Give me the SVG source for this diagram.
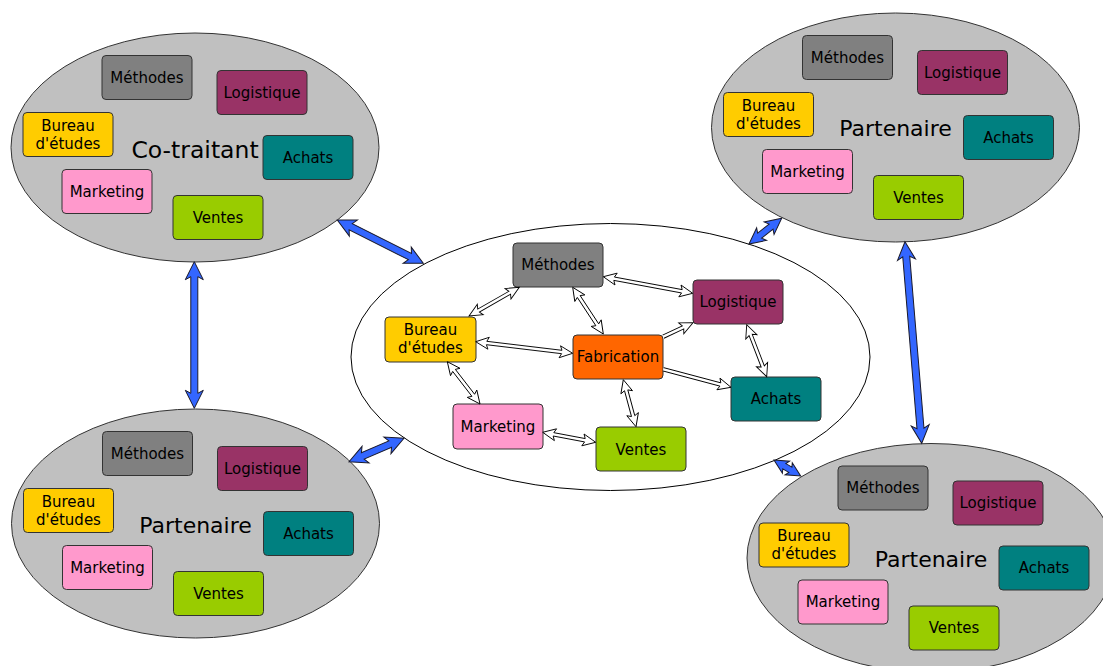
<svg xmlns="http://www.w3.org/2000/svg" width="1103" height="666" viewBox="0 0 1103 666">
<style>
text{font-family:"DejaVu Sans","Liberation Sans",sans-serif;font-size:15px;fill:#000;text-anchor:middle}
.lbl{font-size:22px}
.lbl2{font-size:23.5px}
.sat{fill:#c0c0c0;stroke:#333;stroke-width:1}
.core{fill:#fff;stroke:#000;stroke-width:1}
.box{stroke:#333;stroke-width:1}
.meth{fill:#808080}.logi{fill:#993366}.bur{fill:#ffcc00}.ach{fill:#008080}.mkt{fill:#ff99cc}.ven{fill:#99cc00}.fab{fill:#ff6600}
.wa{fill:#fff;stroke:#000;stroke-width:0.9;stroke-linejoin:miter}
.ba{fill:#3366ff;stroke:#1a1a2a;stroke-width:1}
</style>

<g id="cotraitant" transform="translate(195,147.5)">
<ellipse class="sat" cx="0" cy="0" rx="184" ry="114.5"/>
<text class="lbl2" x="0" y="10">Co-traitant</text>
<g id="ct-methodes"><rect class="box meth" x="-93" y="-92" width="90" height="44" rx="4"/><text x="-48" y="-65">Méthodes</text></g>
<g id="ct-logistique"><rect class="box logi" x="22" y="-77" width="90" height="44" rx="4"/><text x="67" y="-50">Logistique</text></g>
<g id="ct-bureau"><rect class="box bur" x="-172" y="-35" width="90" height="44" rx="4"/><text x="-127" y="-17">Bureau</text><text x="-127" y="1">d'études</text></g>
<g id="ct-achats"><rect class="box ach" x="68" y="-12" width="90" height="44" rx="4"/><text x="113" y="15">Achats</text></g>
<g id="ct-marketing"><rect class="box mkt" x="-133" y="22" width="90" height="44" rx="4"/><text x="-88" y="49">Marketing</text></g>
<g id="ct-ventes"><rect class="box ven" x="-22" y="48" width="90" height="44" rx="4"/><text x="23" y="75">Ventes</text></g>
</g>

<g id="partenaire-tr" transform="translate(895.5,127.5)">
<ellipse class="sat" cx="0" cy="0" rx="184" ry="114.5"/>
<text class="lbl" x="0" y="8">Partenaire</text>
<g id="tr-methodes"><rect class="box meth" x="-93" y="-92" width="90" height="44" rx="4"/><text x="-48" y="-65">Méthodes</text></g>
<g id="tr-logistique"><rect class="box logi" x="22" y="-77" width="90" height="44" rx="4"/><text x="67" y="-50">Logistique</text></g>
<g id="tr-bureau"><rect class="box bur" x="-172" y="-35" width="90" height="44" rx="4"/><text x="-127" y="-17">Bureau</text><text x="-127" y="1">d'études</text></g>
<g id="tr-achats"><rect class="box ach" x="68" y="-12" width="90" height="44" rx="4"/><text x="113" y="15">Achats</text></g>
<g id="tr-marketing"><rect class="box mkt" x="-133" y="22" width="90" height="44" rx="4"/><text x="-88" y="49">Marketing</text></g>
<g id="tr-ventes"><rect class="box ven" x="-22" y="48" width="90" height="44" rx="4"/><text x="23" y="75">Ventes</text></g>
</g>

<g id="partenaire-bl" transform="translate(195.5,523.5)">
<ellipse class="sat" cx="0" cy="0" rx="184" ry="114.5"/>
<text class="lbl" x="0" y="9">Partenaire</text>
<g id="bl-methodes"><rect class="box meth" x="-93" y="-92" width="90" height="44" rx="4"/><text x="-48" y="-65">Méthodes</text></g>
<g id="bl-logistique"><rect class="box logi" x="22" y="-77" width="90" height="44" rx="4"/><text x="67" y="-50">Logistique</text></g>
<g id="bl-bureau"><rect class="box bur" x="-172" y="-35" width="90" height="44" rx="4"/><text x="-127" y="-17">Bureau</text><text x="-127" y="1">d'études</text></g>
<g id="bl-achats"><rect class="box ach" x="68" y="-12" width="90" height="44" rx="4"/><text x="113" y="15">Achats</text></g>
<g id="bl-marketing"><rect class="box mkt" x="-133" y="22" width="90" height="44" rx="4"/><text x="-88" y="49">Marketing</text></g>
<g id="bl-ventes"><rect class="box ven" x="-22" y="48" width="90" height="44" rx="4"/><text x="23" y="75">Ventes</text></g>
</g>

<g id="partenaire-br" transform="translate(931,558)">
<ellipse class="sat" cx="0" cy="0" rx="184" ry="114.5"/>
<text class="lbl" x="0" y="9">Partenaire</text>
<g id="br-methodes"><rect class="box meth" x="-93" y="-92" width="90" height="44" rx="4"/><text x="-48" y="-65">Méthodes</text></g>
<g id="br-logistique"><rect class="box logi" x="22" y="-77" width="90" height="44" rx="4"/><text x="67" y="-50">Logistique</text></g>
<g id="br-bureau"><rect class="box bur" x="-172" y="-35" width="90" height="44" rx="4"/><text x="-127" y="-17">Bureau</text><text x="-127" y="1">d'études</text></g>
<g id="br-achats"><rect class="box ach" x="68" y="-12" width="90" height="44" rx="4"/><text x="113" y="15">Achats</text></g>
<g id="br-marketing"><rect class="box mkt" x="-133" y="22" width="90" height="44" rx="4"/><text x="-88" y="49">Marketing</text></g>
<g id="br-ventes"><rect class="box ven" x="-22" y="48" width="90" height="44" rx="4"/><text x="23" y="75">Ventes</text></g>
</g>

<g id="entreprise">
<ellipse class="core" cx="610.5" cy="357" rx="259.5" ry="133.5"/>
<g id="c-methodes"><rect class="box meth" x="513" y="243" width="90" height="44" rx="4"/><text x="558" y="270">Méthodes</text></g>
<g id="c-logistique"><rect class="box logi" x="693" y="280" width="90" height="44" rx="4"/><text x="738" y="307">Logistique</text></g>
<g id="c-bureau"><rect class="box bur" x="385" y="317" width="91" height="45" rx="4"/><text x="430.5" y="335">Bureau</text><text x="430.5" y="353">d'études</text></g>
<g id="c-fabrication"><rect class="box fab" x="573" y="335" width="90" height="44" rx="4"/><text x="618" y="362">Fabrication</text></g>
<g id="c-achats"><rect class="box ach" x="731" y="377" width="90" height="44" rx="4"/><text x="776" y="404">Achats</text></g>
<g id="c-marketing"><rect class="box mkt" x="453" y="404" width="90" height="45" rx="4"/><text x="498" y="432">Marketing</text></g>
<g id="c-ventes"><rect class="box ven" x="596" y="427" width="90" height="44" rx="4"/><text x="641" y="455">Ventes</text></g>
</g>

<g id="connectors">
<path class="wa" transform="translate(603.3,276.7) rotate(10.52)" d="M0,0 L13,-6 L11,-1.7 L79.93,-1.7 L77.93,-6 L90.93,0 L77.93,6 L79.93,1.7 L11,1.7 L13,6 Z"/>
<path class="wa" transform="translate(469,316) rotate(-29.71)" d="M0,0 L13,-6 L11,-1.7 L46.91,-1.7 L44.91,-6 L57.91,0 L44.91,6 L46.91,1.7 L11,1.7 L13,6 Z"/>
<path class="wa" transform="translate(572.7,287.3) rotate(56.76)" d="M0,0 L13,-6 L11,-1.7 L44.83,-1.7 L42.83,-6 L55.83,0 L42.83,6 L44.83,1.7 L11,1.7 L13,6 Z"/>
<path class="wa" transform="translate(475.7,341.7) rotate(6.82)" d="M0,0 L13,-6 L11,-1.7 L86.69,-1.7 L84.69,-6 L97.69,0 L84.69,6 L86.69,1.7 L11,1.7 L13,6 Z"/>
<path class="wa" transform="translate(663.3,336.7) rotate(-25.24)" d="M0,-1.7 L21.83,-1.7 L19.83,-6 L32.83,0 L19.83,6 L21.83,1.7 L0,1.7"/>
<path class="wa" transform="translate(663.3,369.3) rotate(14.89)" d="M0,-1.7 L59.05,-1.7 L57.05,-6 L70.05,0 L57.05,6 L59.05,1.7 L0,1.7"/>
<path class="wa" transform="translate(746.7,324.7) rotate(68.96)" d="M0,0 L13,-6 L11,-1.7 L44.71,-1.7 L42.71,-6 L55.71,0 L42.71,6 L44.71,1.7 L11,1.7 L13,6 Z"/>
<path class="wa" transform="translate(447.3,361.7) rotate(52.29)" d="M0,0 L13,-6 L11,-1.7 L42.47,-1.7 L40.47,-6 L53.47,0 L40.47,6 L42.47,1.7 L11,1.7 L13,6 Z"/>
<path class="wa" transform="translate(623.3,379.7) rotate(74.88)" d="M0,0 L13,-6 L11,-1.7 L37.69,-1.7 L35.69,-6 L48.69,0 L35.69,6 L37.69,1.7 L11,1.7 L13,6 Z"/>
<path class="wa" transform="translate(542.7,432.3) rotate(10.68)" d="M0,0 L13,-6 L11,-1.7 L42.94,-1.7 L40.94,-6 L53.94,0 L40.94,6 L42.94,1.7 L11,1.7 L13,6 Z"/>

<path class="ba" transform="translate(337.3,220) rotate(26.72)" d="M0,0 L18,-9 L15,-3.5 L81.28,-3.5 L78.28,-9 L96.28,0 L78.28,9 L81.28,3.5 L15,3.5 L18,9 Z"/>
<path class="ba" transform="translate(194.3,261.7) rotate(90)" d="M0,0 L18,-9 L15,-3.5 L131.6,-3.5 L128.6,-9 L146.6,0 L128.6,9 L131.6,3.5 L15,3.5 L18,9 Z"/>
<path class="ba" transform="translate(349,461.7) rotate(-23.05)" d="M0,0 L18,-9 L15,-3.5 L44.77,-3.5 L41.77,-9 L59.77,0 L41.77,9 L44.77,3.5 L15,3.5 L18,9 Z"/>
<path class="ba" transform="translate(749,244) rotate(-38.17)" d="M0,0 L16,-8 L13.5,-3.2 L28.09,-3.2 L25.59,-8 L41.59,0 L25.59,8 L28.09,3.2 L13.5,3.2 L16,8 Z"/>
<path class="ba" transform="translate(905,241.7) rotate(85.26)" d="M0,0 L18,-9 L15,-3.5 L187.3,-3.5 L184.3,-9 L202.3,0 L184.3,9 L187.3,3.5 L15,3.5 L18,9 Z"/>
<path class="ba" transform="translate(774,460) rotate(30.93)" d="M0,0 L14,-7 L12,-3 L19.1,-3 L17.1,-7 L31.1,0 L17.1,7 L19.1,3 L12,3 L14,7 Z"/>
</g>
</svg>
